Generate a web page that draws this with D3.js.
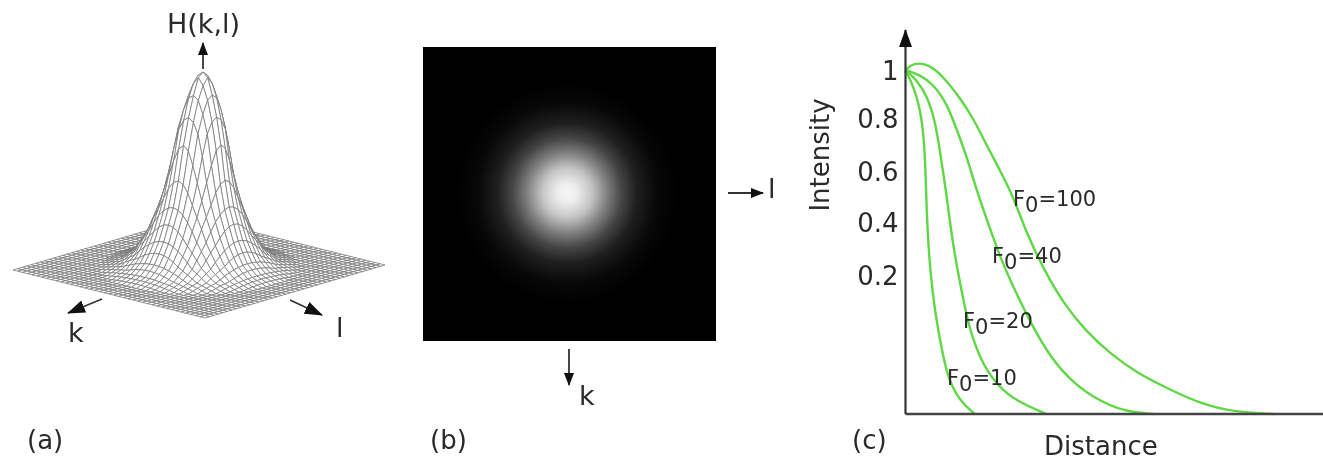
<!DOCTYPE html>
<html>
<head>
<meta charset="utf-8">
<script src="https://cdn.jsdelivr.net/npm/d3@7"></script>
<style>
    body { margin: 0; background: #fff; }
    svg { display: block; }
    text { font-family: "DejaVu Sans", sans-serif; fill: #2a2a2a; }
    #all { filter: blur(0.55px); }
</style>
</head>
<body>
<svg id="fig" width="1323" height="460"></svg>
<script>
// (a) and (b): radial profile of the filter
var meshRadius = [0, 0.05, 0.12, 0.19, 0.235, 0.30, 0.395, 0.44, 0.50, 0.60, 0.75];
var meshHeight = [1, 0.977, 0.86, 0.69, 0.515, 0.346, 0.19, 0.14, 0.08, 0.03, 0];
var glowRadius = [0, 10, 25, 40, 55, 70, 90, 110];
var glowLevel = [0.96, 0.93, 0.77, 0.5, 0.27, 0.12, 0.03, 0];

// (c): curves as [distance, intensity]
var curveNames = ["F0=10", "F0=20", "F0=40", "F0=100"];
var f10 = [[0, 1], [2.3, 0.917], [3.9, 0.805], [4.7, 0.67], [5.1, 0.408], [5.9, 0.213], [7.1, 0.145],
    [8.7, 0.092], [10.3, 0.049], [13.1, 0.018], [16.6, 0]];
var f20 = [[0, 1], [2.7, 0.958], [5.1, 0.895], [7.1, 0.79], [8.3, 0.67], [9.9, 0.5], [11.4, 0.307],
    [13.1, 0.188], [15.1, 0.126], [17.9, 0.078], [21.8, 0.042], [26.6, 0.018], [33.8, 0]];
var f40 = [[0, 1], [3.5, 0.98], [6.7, 0.94], [9.9, 0.861], [12.3, 0.755], [14.7, 0.654], [17.1, 0.52],
    [19.8, 0.395], [22.6, 0.269], [25.8, 0.183], [29.8, 0.133], [34.6, 0.082], [40.2, 0.044],
    [46.6, 0.018], [53, 0.003], [59.4, 0]];
var f100 = [[0, 1], [1.9, 1.03], [5.5, 1.025], [9.1, 0.972], [13.1, 0.882], [16.2, 0.8], [19.4, 0.698],
    [22.6, 0.604], [25.8, 0.5], [29, 0.357], [33, 0.225], [37.8, 0.159], [43.4, 0.118], [49, 0.087],
    [55.4, 0.059], [62.7, 0.037], [70.5, 0.015], [78.5, 0.003], [88.1, 0]];
var intensityTicks = [1, 0.8, 0.6, 0.4, 0.2];

var svg = d3.select("#fig");
var all = svg.append("g").attr("id", "all");
var defs = svg.append("defs");

function addHead(id, len, wide) {
    defs.append("marker")
        .attr("id", id)
        .attr("markerUnits", "userSpaceOnUse")
        .attr("viewBox", "0 0 " + len + " " + wide)
        .attr("refX", len - 1).attr("refY", wide / 2)
        .attr("markerWidth", len).attr("markerHeight", wide)
        .attr("orient", "auto")
        .append("path")
        .attr("d", "M0,0L" + len + "," + wide / 2 + "L0," + wide + "Z")
        .attr("fill", "#111");
}
addHead("head", 13, 10);
addHead("bigHead", 18, 13);

function arrow(x1, y1, x2, y2, head, width) {
    all.append("line")
        .attr("x1", x1).attr("y1", y1).attr("x2", x2).attr("y2", y2)
        .attr("stroke", "#333").attr("stroke-width", width || 1.8)
        .attr("marker-end", "url(#" + (head || "head") + ")");
}

function label(str, x, y, size) {
    return all.append("text").attr("x", x).attr("y", y)
        .attr("font-size", size || 26).text(str);
}

// ---- (a) mesh
var gridN = 40;
var gridPos = d3.scaleLinear().domain([0, gridN]).range([-1, 1]);
var heightOf = d3.scaleLinear().domain(meshRadius).range(meshHeight).clamp(true);

function project(i, j) {
    var u = gridPos(i), v = gridPos(j);
    var h = heightOf(Math.sqrt(u * u + v * v));
    return [199 + 96 * u - 90 * v + 4 * h, 267.5 + 24 * u + 26.5 * v - 195.5 * h];
}

var quads = [];
d3.range(gridN).forEach(function (i) {
    d3.range(gridN).forEach(function (j) {
        quads.push({ i: i, j: j });
    });
});
quads.sort(function (a, b) { return (a.i + a.j) - (b.i + b.j); });

all.append("g")
    .selectAll("path")
    .data(quads)
    .enter()
    .append("path")
    .attr("d", function (d) {
        return "M" + [project(d.i, d.j), project(d.i + 1, d.j), project(d.i + 1, d.j + 1), project(d.i, d.j + 1)].join("L") + "Z";
    })
    .attr("fill", "#fff")
    .attr("stroke", "#777")
    .attr("stroke-width", 0.75);

arrow(203, 69, 203, 43);
arrow(102, 299, 68, 313, "bigHead", 1.6);
arrow(290, 300, 322, 315, "bigHead", 1.6);
label("H(k,l)", 167, 33, 27);
label("k", 68, 342, 27);
label("l", 336, 337, 27);
label("(a)", 27, 449);

// ---- (b) glow
var glowR = d3.max(glowRadius);
var grad = defs.append("radialGradient")
    .attr("id", "glow")
    .attr("gradientUnits", "userSpaceOnUse")
    .attr("cx", 567).attr("cy", 193).attr("r", glowR);
grad.selectAll("stop")
    .data(glowRadius)
    .enter()
    .append("stop")
    .attr("offset", function (d) { return d / glowR; })
    .attr("stop-color", function (d, i) {
        return d3.interpolateRgb("#000", "#fff")(glowLevel[i]);
    });

all.append("rect")
    .attr("x", 423).attr("y", 47).attr("width", 293).attr("height", 294)
    .attr("fill", "url(#glow)");

arrow(728, 193, 763, 193);
arrow(569, 349, 569, 385);
label("l", 768, 198, 27);
label("k", 579, 405, 27);
label("(b)", 430, 449);

// ---- (c) curves
var x = d3.scaleLinear().domain([0, 100]).range([905.5, 1323]);
var y = d3.scaleLinear().domain([0, 0.2, 0.4, 0.6, 0.8, 1]).range([414, 275, 222, 171, 118, 70]);

var yAxis = all.append("g")
    .attr("transform", "translate(905.5,0)")
    .call(d3.axisLeft(y).tickValues(intensityTicks).tickSize(0).tickPadding(7).tickFormat(d3.format("~g")));
yAxis.select(".domain").remove();
yAxis.selectAll("text")
    .attr("font-size", 26)
    .attr("font-family", "DejaVu Sans")
    .attr("dy", ".38em");

var line = d3.line()
    .x(function (d) { return x(d[0]); })
    .y(function (d) { return y(d[1]); })
    .curve(d3.curveBasis);

all.append("g")
    .selectAll("path")
    .data([f10, f20, f40, f100])
    .enter()
    .append("path")
    .attr("d", line)
    .attr("fill", "none")
    .attr("stroke", "#5ed844")
    .attr("stroke-width", 2.4);

all.append("line")
    .attr("x1", x(0)).attr("x2", x(100)).attr("y1", 414).attr("y2", 414)
    .attr("stroke", "#444").attr("stroke-width", 2.4);
arrow(905.5, 414, 905.5, 30, "bigHead", 2.2);

var nameX = [947, 963, 992, 1013];
var nameY = [385, 328, 263, 206];
curveNames.forEach(function (name, i) {
    var t = label("", nameX[i], nameY[i], 21);
    t.append("tspan").text("F");
    t.append("tspan").attr("dy", 6).text("0");
    t.append("tspan").attr("dy", -6).text(name.slice(2));
});

label("Distance", 1044, 455);
label("(c)", 852, 449);
all.append("text")
    .attr("transform", "translate(829,155) rotate(-90)")
    .attr("text-anchor", "middle")
    .attr("font-size", 26)
    .text("Intensity");
</script>
</body>
</html>
